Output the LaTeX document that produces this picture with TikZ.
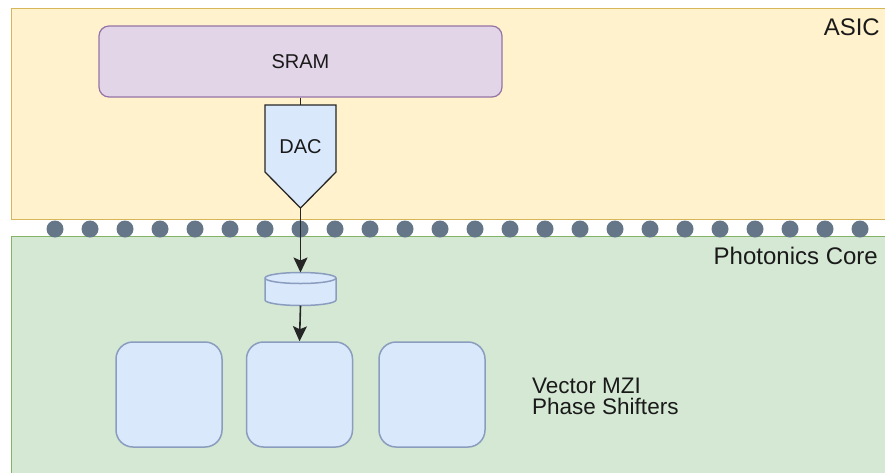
\documentclass[tikz,border=0pt]{standalone}
\usepackage{fontspec}
\setmainfont{Liberation Sans}
\usetikzlibrary{arrows.meta}
\definecolor{asicfill}{HTML}{FFF2CC}
\definecolor{asicline}{HTML}{D6B656}
\definecolor{corefill}{HTML}{D5E8D4}
\definecolor{coreline}{HTML}{82B366}
\definecolor{sramfill}{HTML}{E1D5E7}
\definecolor{sramline}{HTML}{9673A6}
\definecolor{bluefill}{HTML}{DAE8FC}
\definecolor{blueline}{HTML}{8A9DBE}
\definecolor{dotcol}{HTML}{647687}
\definecolor{txt}{HTML}{1A1A1A}
\begin{document}
\begin{tikzpicture}[x=1pt,y=-1pt,
  asicreg/.style={draw=asicline,fill=asicfill,line width=1pt},
  corereg/.style={draw=coreline,fill=corefill,line width=1pt},
  srambox/.style={draw=sramline,fill=sramfill,line width=1.2pt,rounded corners=10pt,
    minimum width=403pt,minimum height=71pt,inner sep=0pt,font=\fontsize{20}{24}\selectfont,text=txt},
  mzibox/.style={draw=blueline,fill=bluefill,line width=1.5pt,rounded corners=17pt,
    minimum width=106pt,minimum height=105pt,inner sep=0pt},
  dacshape/.style={draw=black!85,fill=bluefill,line width=1.3pt},
  cylshape/.style={draw=blueline,fill=bluefill,line width=1.5pt},
  lbl/.style={inner sep=0pt,text=txt},
  conn/.style={draw=black!85,line width=1.6pt},
  arr/.style={conn,-{Stealth[length=15pt,width=14pt,inset=3pt]}}
]
\useasboundingbox (0,0) rectangle (885,472);
% regions
\draw[asicreg] (11,8) rectangle (905,219);
\draw[corereg] (11,236) rectangle (905,490);
% bumps
\foreach \i in {0,...,24} \fill[dotcol] (55+35*\i,229) circle (8.5);
% SRAM
\node[srambox] (sram) at (300.5,61.5) {SRAM};
% DAC
\draw[dacshape] (265,105) -- (336,105) -- (336,172) -- (300.5,208) -- (265,172) -- cycle;
\coordinate (dactop) at (300.5,105);
\coordinate (dactip) at (300.5,208);
\node[lbl,font=\fontsize{20}{24}\selectfont] (dac) at (300.5,147) {DAC};
% cylinder
\filldraw[cylshape] (265,278) -- (265,300) arc (180:0:35.5 and 5.5) -- (336,278) arc (360:180:35.5 and 5.5) -- cycle;
\draw[cylshape] (265,278) arc (180:0:35.5 and 5.5);
\coordinate (cyltop) at (300.5,272.5);
\coordinate (cylbot) at (300.5,305.5);
% MZI boxes
\node[mzibox] (m1) at (169,394.5) {};
\node[mzibox] (m2) at (299.5,394.5) {};
\node[mzibox] (m3) at (432,394.5) {};
% connectors
\draw[conn] (sram.south) -- (dactop);
\draw[arr] (dactip) -- (cyltop);
\draw[arr] (cylbot) -- (m2.north);
% labels
\node[lbl,anchor=base east,font=\fontsize{24}{28}\selectfont] (asic) at (880,35) {ASIC};
\node[lbl,anchor=base east,font=\fontsize{24}{28}\selectfont] (pcore) at (878,264) {Photonics Core};
\node[lbl,anchor=north west,align=left,font=\fontsize{22.5}{21.5}\selectfont] (vmzi) at (532,377.5) {Vector MZI\\Phase Shifters};
\end{tikzpicture}
\end{document}
